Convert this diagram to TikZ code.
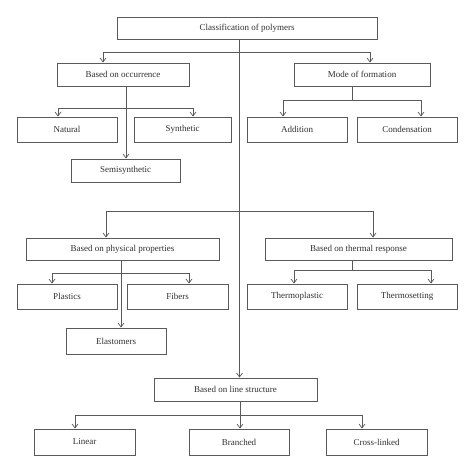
\documentclass[tikz,border=0pt]{standalone}
\usepackage{fontspec}
\setmainfont{Liberation Serif}
\usetikzlibrary{arrows.meta}
\definecolor{ln}{HTML}{5A5A5A}
\definecolor{tx}{HTML}{303030}
\begin{document}
\begin{tikzpicture}[x=1pt,y=-1pt,
  bx/.style={draw=ln,line width=0.9pt,text=tx,font=\fontsize{9}{10}\selectfont,inner sep=0pt,anchor=center},
  ln/.style={draw=ln,line width=0.8pt},
  arr/.style={ln,-{Straight Barb[length=4pt,width=6pt,line width=0.7pt]}}]
\fill[white] (0,0) rectangle (474,472);
\useasboundingbox (0,0) rectangle (474,472);
% boxes
\node[bx,minimum width=260pt,minimum height=22pt] (cls) at (247,28) {Classification of polymers};
\node[bx,minimum width=132pt,minimum height=23pt] (occ) at (123,74.5) {Based on occurrence};
\node[bx,minimum width=136pt,minimum height=23pt] (mof) at (362,74.5) {Mode of formation};
\node[bx,minimum width=100pt,minimum height=25pt] (nat) at (67,129.5) {Natural};
\node[bx,minimum width=97pt,minimum height=25pt] (syn) at (182.5,129.5) {Synthetic};
\node[bx,minimum width=100pt,minimum height=25pt] (add) at (297,129.5) {Addition};
\node[bx,minimum width=100pt,minimum height=25pt] (con) at (407,129.5) {Condensation};
\node[bx,minimum width=109pt,minimum height=23pt] (semi) at (125.5,170.5) {Semisynthetic};
\node[bx,minimum width=193pt,minimum height=22pt] (phy) at (122.5,249) {Based on physical properties};
\node[bx,minimum width=187pt,minimum height=22pt] (thr) at (358.5,249) {Based on thermal response};
\node[bx,minimum width=100pt,minimum height=25pt] (pla) at (67,296.5) {Plastics};
\node[bx,minimum width=101pt,minimum height=25pt] (fib) at (177.5,296.5) {Fibers};
\node[bx,minimum width=100pt,minimum height=25pt] (tpl) at (297,296.5) {Thermoplastic};
\node[bx,minimum width=100pt,minimum height=25pt] (tst) at (407,296.5) {Thermosetting};
\node[bx,minimum width=100pt,minimum height=26pt] (ela) at (116,341) {Elastomers};
\node[bx,minimum width=163pt,minimum height=23pt] (lin) at (235.5,389.5) {Based on line structure};
\node[bx,minimum width=101pt,minimum height=26pt] (lnr) at (84.5,442) {Linear};
\node[bx,minimum width=100pt,minimum height=26pt] (bra) at (239,442) {Branched};
\node[bx,minimum width=101pt,minimum height=26pt] (crs) at (376.5,442) {Cross-linked};
% junction coordinates
\coordinate (t) at (239.5,0);
\coordinate (aL) at (103,52);  \coordinate (aR) at (370,52);
\coordinate (o) at (126,0);
\coordinate (oL) at (58,108);  \coordinate (oR) at (193,108);
\coordinate (mJ) at (352,100);
\coordinate (mL) at (283,100); \coordinate (mR) at (421,100);
\coordinate (bL) at (106,211); \coordinate (bR) at (373,211);
\coordinate (p) at (121,0);
\coordinate (pL) at (52,273);  \coordinate (pR) at (189,273);
\coordinate (tJ) at (352,270);
\coordinate (tL) at (294,270); \coordinate (tR) at (431,270);
\coordinate (l) at (240,0);
\coordinate (lL) at (75,415);  \coordinate (lR) at (362,415);
% trunk
\draw[arr] (t |- cls.south) -- (t |- lin.north);
% first branch
\draw[ln] (aL) -- (aR);
\draw[arr] (aL) -- (aL |- occ.north);
\draw[arr] (aR) -- (aR |- mof.north);
% occurrence
\draw[arr] (o |- occ.south) -- (o |- semi.north);
\draw[ln] (oL) -- (oR);
\draw[arr] (oL) -- (oL |- nat.north);
\draw[arr] (oR) -- (oR |- syn.north);
% mode of formation
\draw[ln] (mJ |- mof.south) -- (mJ);
\draw[ln] (mL) -- (mR);
\draw[arr] (mL) -- (mL |- add.north);
\draw[arr] (mR) -- (mR |- con.north);
% second branch
\draw[ln] (bL) -- (bR);
\draw[arr] (bL) -- (bL |- phy.north);
\draw[arr] (bR) -- (bR |- thr.north);
% physical
\draw[arr] (p |- phy.south) -- (p |- ela.north);
\draw[ln] (pL) -- (pR);
\draw[arr] (pL) -- (pL |- pla.north);
\draw[arr] (pR) -- (pR |- fib.north);
% thermal
\draw[ln] (tJ |- thr.south) -- (tJ);
\draw[ln] (tL) -- (tR);
\draw[arr] (tL) -- (tL |- tpl.north);
\draw[arr] (tR) -- (tR |- tst.north);
% line structure
\draw[arr] (l |- lin.south) -- (l |- bra.north);
\draw[ln] (lL) -- (lR);
\draw[arr] (lL) -- (lL |- lnr.north);
\draw[arr] (lR) -- (lR |- crs.north);
\end{tikzpicture}
\end{document}
